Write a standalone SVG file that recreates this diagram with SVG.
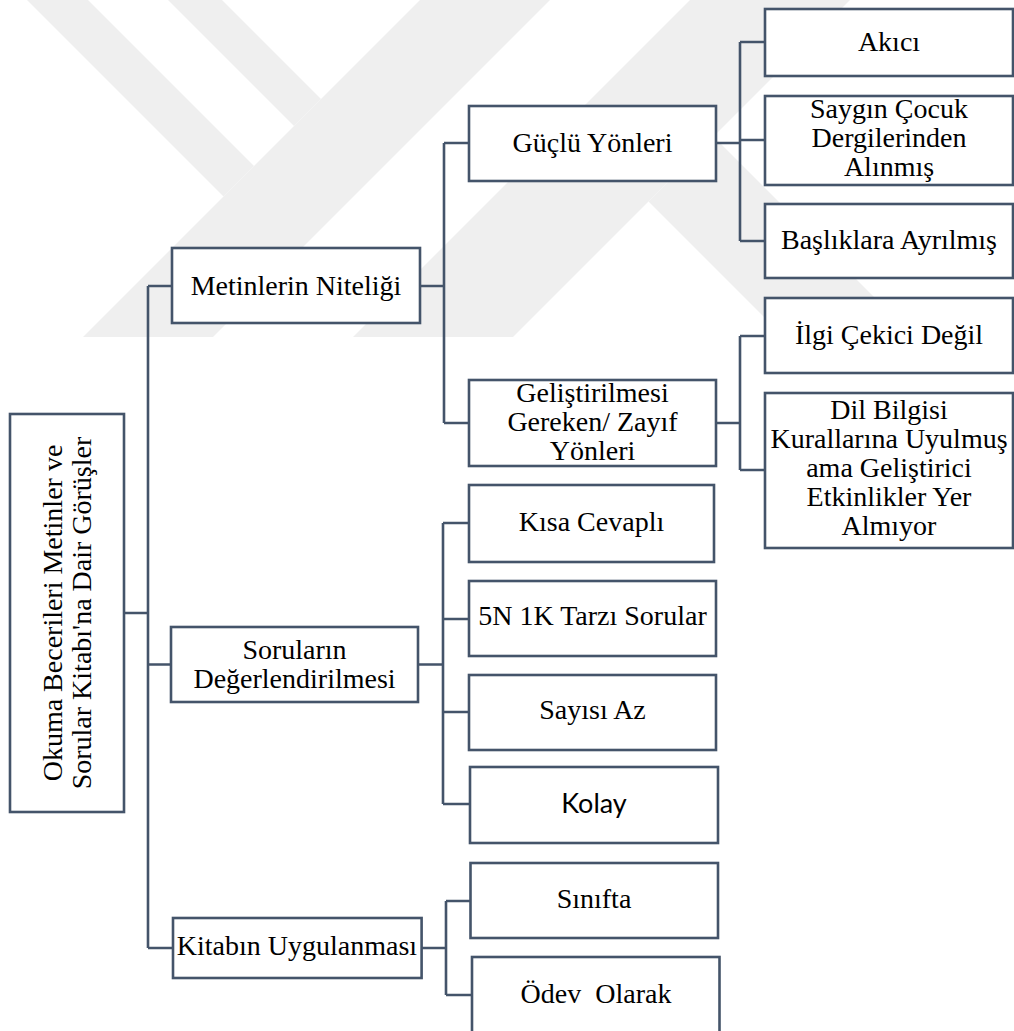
<svg xmlns="http://www.w3.org/2000/svg" width="1014" height="1031" viewBox="0 0 1014 1031">
<style>
.wm{fill:#efefef;stroke:none}
.box{fill:#ffffff;stroke:#44546a;stroke-width:2.6}
.con{fill:none;stroke:#44546a;stroke-width:2.6}
.t{font-family:"Liberation Serif","Times New Roman",serif;font-size:28px;fill:#000;text-anchor:middle}
.s{font-family:Lato,"Liberation Sans",sans-serif;font-size:27px;fill:#000;text-anchor:middle}
</style>
<rect x="0" y="0" width="1014" height="1031" fill="#ffffff"/>
<g id="watermark">
<polygon class="wm" points="27,0 88,0 254,166 223.5,196.5"/>
<polygon class="wm" points="168,0 222,0 321,99 294,126"/>
<polygon class="wm" points="420,0 550,0 213,337 83,337"/>
<polygon class="wm" points="690,0 850,0 513,337 353,337"/>
<polygon class="wm" points="648.5,201.5 713.5,136.5 914,337 784,337"/>
</g>
<g id="connectors">
<path class="con" d="M124,613 H148 M148,286 V948 M148,286 H172 M148,664.5 H171 M148,948 H173"/>
<path class="con" d="M420,286 H444 M444,143 V423 M444,143 H469 M444,423 H469"/>
<path class="con" d="M716,143 H740 M740,42 V241 M740,42 H765 M740,140 H765 M740,241 H765"/>
<path class="con" d="M716,423 H740 M740,336 V470 M740,336 H765 M740,470 H765"/>
<path class="con" d="M418,664.5 H443 M443,523 V804 M443,523 H469 M443,619 H469 M443,712 H469 M443,804 H470"/>
<path class="con" d="M421.6,948 H446 M446,901 V995 M446,901 H470.5 M446,995 H472"/>
</g>
<g id="root">
<rect class="box" x="10" y="414" width="114" height="398"/>
<text class="t" transform="translate(62,613) rotate(-90)">Okuma Becerileri Metinler ve</text>
<text class="t" transform="translate(90.5,613) rotate(-90)">Sorular Kitabı'na Dair Görüşler</text>
</g>
<g id="metinlerin">
<rect class="box" x="172" y="248" width="248" height="75"/>
<text class="t" x="296" y="295">Metinlerin Niteliği</text>
</g>
<g id="sorularin">
<rect class="box" x="171" y="627" width="247" height="75"/>
<text class="t" x="294.5" y="659">Soruların</text>
<text class="t" x="294.5" y="688">Değerlendirilmesi</text>
</g>
<g id="kitabin">
<rect class="box" x="173" y="918" width="248.6" height="60"/>
<text class="t" x="297" y="955">Kitabın Uygulanması</text>
</g>
<g id="guclu">
<rect class="box" x="469" y="106" width="247" height="75"/>
<text class="t" x="592.5" y="152">Güçlü Yönleri</text>
</g>
<g id="gelistirilmesi">
<rect class="box" x="469" y="380" width="247" height="86"/>
<text class="t" x="592.5" y="402">Geliştirilmesi</text>
<text class="t" x="592.5" y="431">Gereken/ Zayıf</text>
<text class="t" x="592.5" y="460">Yönleri</text>
</g>
<g id="akici">
<rect class="box" x="765" y="9" width="248" height="67"/>
<text class="t" x="889" y="51">Akıcı</text>
</g>
<g id="saygin">
<rect class="box" x="765" y="96" width="248" height="89"/>
<text class="t" x="889" y="118">Saygın Çocuk</text>
<text class="t" x="889" y="147">Dergilerinden</text>
<text class="t" x="889" y="176">Alınmış</text>
</g>
<g id="basliklara">
<rect class="box" x="765" y="204" width="248" height="74"/>
<text class="t" x="889" y="249">Başlıklara Ayrılmış</text>
</g>
<g id="ilgi">
<rect class="box" x="765" y="298" width="248" height="75"/>
<text class="t" x="889" y="343.5">İlgi Çekici Değil</text>
</g>
<g id="dilbilgisi">
<rect class="box" x="765" y="393" width="248" height="155"/>
<text class="t" x="889" y="419">Dil Bilgisi</text>
<text class="t" x="889" y="448">Kurallarına Uyulmuş</text>
<text class="t" x="889" y="477">ama Geliştirici</text>
<text class="t" x="889" y="506">Etkinlikler Yer</text>
<text class="t" x="889" y="535">Almıyor</text>
</g>
<g id="kisa">
<rect class="box" x="469" y="485" width="245" height="77"/>
<text class="t" x="591.5" y="531">Kısa Cevaplı</text>
</g>
<g id="5n1k">
<rect class="box" x="469" y="581" width="247" height="75"/>
<text class="t" x="592.5" y="625">5N 1K Tarzı Sorular</text>
</g>
<g id="sayisi">
<rect class="box" x="469" y="675" width="247" height="75"/>
<text class="t" x="592.5" y="719">Sayısı Az</text>
</g>
<g id="kolay">
<rect class="box" x="470" y="767" width="248" height="76"/>
<text class="s" x="594" y="813">Kolay</text>
</g>
<g id="sinifta">
<rect class="box" x="470.5" y="863" width="247.5" height="75"/>
<text class="t" x="594" y="908">Sınıfta</text>
</g>
<g id="odev">
<rect class="box" x="472" y="957" width="247.5" height="84"/>
<text class="t" x="596" y="1003" style="white-space:pre">Ödev  Olarak</text>
</g>
</svg>
